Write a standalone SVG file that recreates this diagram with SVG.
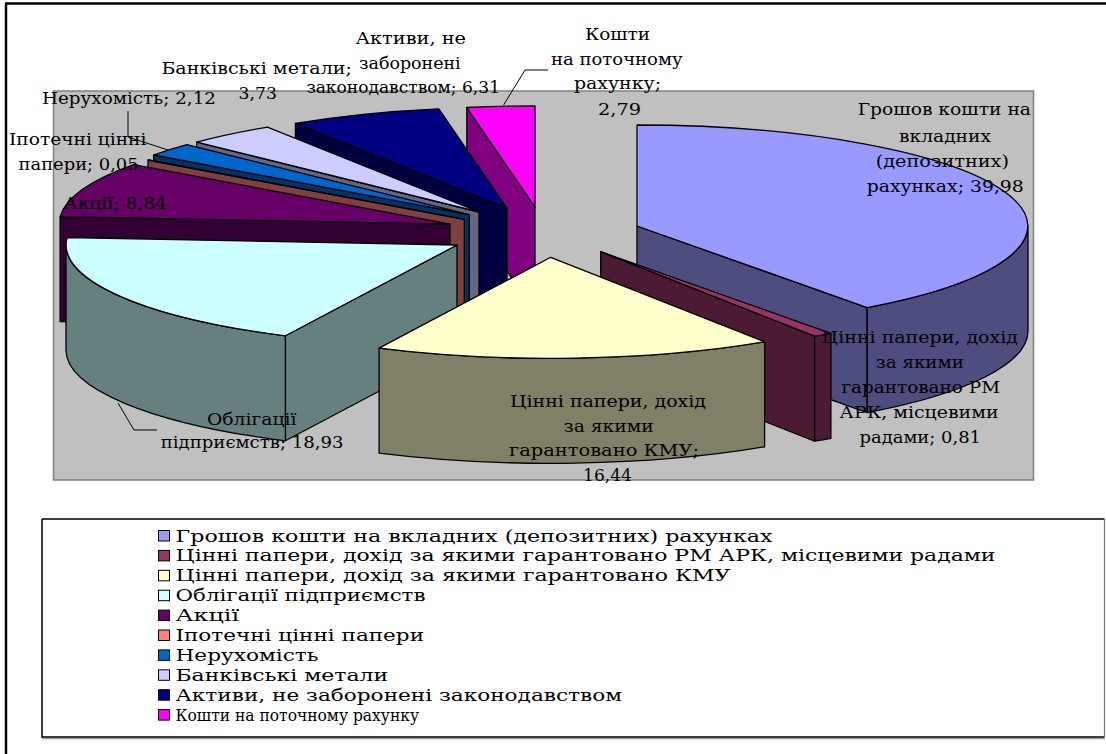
<svg xmlns="http://www.w3.org/2000/svg" width="1106" height="754" viewBox="0 0 1106 754">
<style>
.e{stroke:#000;stroke-width:1.3;stroke-linejoin:round}
.t{font-family:"DejaVu Serif","Liberation Serif",serif;font-size:16px;fill:#000}
.l{font-family:"DejaVu Serif","Liberation Serif",serif;font-size:16px;fill:#000}
.sq{stroke:#000;stroke-width:1}
.ld{fill:none;stroke:#000;stroke-width:1}
</style>
<rect x="0" y="0" width="1106" height="754" fill="#fff"/>
<path d="M5,3.5 H1106 M6,3.5 V754" stroke="#000" stroke-width="2.5" fill="none"/>
<rect id="plot-area" x="53.5" y="91" width="980" height="389" fill="#C0C0C0" stroke="#808080" stroke-width="1.5"/>

<g id="slice-koshty">
<path class="e" fill="#800080" d="M535,207 L466.8,107.5 L466.8,212.5 L535,312 Z"/>
<path class="e" fill="#FF00FF" d="M535,207 L466.8,107.5 A391,101 0 0 1 535,106 Z"/>
</g>
<g id="slice-aktyvy">
<path class="e" fill="#000040" d="M507,208.3 L295.4,123.4 L295.4,228.4 L507,313.3 Z"/>
<path class="e" fill="#000080" d="M507,208.3 L295.4,123.4 A391,101 0 0 1 438.8,108.8 Z"/>
</g>
<g id="slice-metaly">
<path class="e" fill="#666680" d="M479,212 L196.7,142.1 L196.7,247.1 L479,317 Z"/>
<path class="e" fill="#CCCCFF" d="M479,212 L196.7,142.1 A391,101 0 0 1 267.4,127.1 Z"/>
</g>
<g id="slice-nerukhomist">
<path class="e" fill="#003366" d="M469.2,214.6 L153.6,155 L153.6,260 L469.2,319.6 Z"/>
<path class="e" fill="#0066CC" d="M469.2,214.6 L153.6,155 A391,101 0 0 1 186.9,144.7 Z"/>
</g>
<g id="slice-ipotechni">
<path class="e" fill="#804040" d="M464.3,219.4 L148,160 L148,265 L464.3,324.4 Z"/>
<path class="e" fill="#FF8080" d="M464.3,219.4 L148,160 L148.7,159.8 Z"/>
</g>
<g id="slice-aktsii">
<path class="e" fill="#330033" d="M450,224.1 L60.1,216.7 L60.1,321.7 L450,329.1 Z"/>
<path class="e" fill="#660066" d="M450,224.1 L60.1,216.7 A391,101 0 0 1 133.7,164.7 Z"/>
</g>
<g id="slice-oblihatsii">
<path class="e" fill="#668080" d="M457,245 L285.4,335.8 L285.4,440.8 L457,350 Z"/>
<path class="e" fill="#668080" d="M285.4,335.8 A391,101 0 0 1 66,245 L66,350 A391,101 0 0 0 285.4,440.8 Z"/>
<path class="e" fill="#CCFFFF" d="M457,245 L285.4,335.8 A391,101 0 0 1 67.1,237.6 Z"/>
</g>
<g id="slice-hroshovi">
<path class="e" fill="#4D4D80" d="M637,226 L867.2,307.6 L867.2,412.6 L637,331 Z"/>
<path class="e" fill="#4D4D80" d="M1028,226 A391,101 0 0 1 867.2,307.6 L867.2,412.6 A391,101 0 0 0 1028,331 Z"/>
<path class="e" fill="#9999FF" d="M637,226 L637,125 A391,101 0 0 1 867.2,307.6 Z"/>
</g>
<g id="slice-rm-ark">
<path class="e" fill="#4D1A33" d="M600.7,251.7 L814.6,336.2 L814.6,441.2 L600.7,356.7 Z"/>
<path class="e" fill="#4D1A33" d="M830.9,333.3 A391,101 0 0 1 814.6,336.2 L814.6,441.2 A391,101 0 0 0 830.9,438.3 Z"/>
<path class="e" fill="#993366" d="M600.7,251.7 L830.9,333.3 A391,101 0 0 1 814.6,336.2 Z"/>
</g>
<g id="slice-kmu">
<path class="e" fill="#808066" d="M764.6,341.8 A391,101 0 0 1 379.1,348.1 L379.1,453.1 A391,101 0 0 0 764.6,446.8 Z"/>
<path class="e" fill="#FFFFCC" d="M550.7,257.3 L764.6,341.8 A391,101 0 0 1 379.1,348.1 Z"/>
</g>

<g id="connectors">
<polyline class="ld" points="128,111 128,137 168,150"/>
<polyline class="ld" points="503.6,105 525,70 548,70"/>
<polyline class="ld" points="118,403 134,430 157,430"/>
</g>

<g id="labels" class="t">
<text x="355.4" y="44" textLength="110.6" lengthAdjust="spacingAndGlyphs">Активи, не</text>
<text x="359" y="68.5" textLength="101.7" lengthAdjust="spacingAndGlyphs">заборонені</text>
<text x="306.4" y="93" textLength="193.6" lengthAdjust="spacingAndGlyphs">законодавством; 6,31</text>
<text x="161.4" y="74" textLength="190.4" lengthAdjust="spacingAndGlyphs">Банківські метали;</text>
<text x="238.6" y="99" textLength="38.2" lengthAdjust="spacingAndGlyphs">3,73</text>
<text x="42" y="104" textLength="174" lengthAdjust="spacingAndGlyphs">Нерухомість; 2,12</text>
<text x="9" y="145" textLength="137.4" lengthAdjust="spacingAndGlyphs">Іпотечні цінні</text>
<text x="18.6" y="170" textLength="120" lengthAdjust="spacingAndGlyphs">папери; 0,05</text>
<text x="63.6" y="209" textLength="103.4" lengthAdjust="spacingAndGlyphs">Акції; 8,84</text>
<text x="585" y="40" textLength="65" lengthAdjust="spacingAndGlyphs">Кошти</text>
<text x="551" y="65" textLength="131.6" lengthAdjust="spacingAndGlyphs">на поточному</text>
<text x="574" y="89" textLength="87" lengthAdjust="spacingAndGlyphs">рахунку;</text>
<text x="598" y="115" textLength="43" lengthAdjust="spacingAndGlyphs">2,79</text>
<text x="857.7" y="115" textLength="173.3" lengthAdjust="spacingAndGlyphs">Грошов кошти на</text>
<text x="899" y="141.5" textLength="92" lengthAdjust="spacingAndGlyphs">вкладних</text>
<text x="875.7" y="167" textLength="133.3" lengthAdjust="spacingAndGlyphs">(депозитних)</text>
<text x="866.7" y="191.5" textLength="157.1" lengthAdjust="spacingAndGlyphs">рахунках; 39,98</text>
<text x="207" y="425" textLength="89.4" lengthAdjust="spacingAndGlyphs">Облігації</text>
<text x="160.7" y="448" textLength="182.9" lengthAdjust="spacingAndGlyphs">підприємств; 18,93</text>
<text x="821.6" y="343" textLength="196.4" lengthAdjust="spacingAndGlyphs">Цінні папери, дохід</text>
<text x="875.7" y="368" textLength="88.3" lengthAdjust="spacingAndGlyphs">за якими</text>
<text x="841.4" y="393" textLength="158.6" lengthAdjust="spacingAndGlyphs">гарантовано РМ</text>
<text x="839.6" y="418" textLength="158.9" lengthAdjust="spacingAndGlyphs">АРК, місцевими</text>
<text x="859.5" y="443" textLength="121.5" lengthAdjust="spacingAndGlyphs">радами; 0,81</text>
<text x="510" y="407" textLength="196" lengthAdjust="spacingAndGlyphs">Цінні папери, дохід</text>
<text x="563.5" y="432" textLength="90.2" lengthAdjust="spacingAndGlyphs">за якими</text>
<text x="509" y="456" textLength="190" lengthAdjust="spacingAndGlyphs">гарантовано КМУ;</text>
<text x="583" y="481" textLength="49" lengthAdjust="spacingAndGlyphs">16,44</text>
</g>

<g id="legend">
<rect x="42" y="519" width="1062.5" height="218" fill="#fff" stroke="none"/>
<path d="M42,519 H1104.5 M42,519 V737 H1104.5" stroke="#000" stroke-width="1.5" fill="none"/>
<path d="M1104.5,519 V737" stroke="#777" stroke-width="1.2" fill="none"/>
<path d="M42,738.6 H1105" stroke="#999" stroke-width="1.2" fill="none"/>
<g class="sq">
<rect x="158.5" y="530.5" width="11" height="10.5" fill="#9999FF"/>
<rect x="158.5" y="550.4" width="11" height="10.5" fill="#993366"/>
<rect x="158.5" y="570.3" width="11" height="10.5" fill="#FFFFCC"/>
<rect x="158.5" y="590.2" width="11" height="10.5" fill="#CCFFFF"/>
<rect x="158.5" y="610.1" width="11" height="10.5" fill="#660066"/>
<rect x="158.5" y="630" width="11" height="10.5" fill="#FF8080"/>
<rect x="158.5" y="649.9" width="11" height="10.5" fill="#0066CC"/>
<rect x="158.5" y="669.8" width="11" height="10.5" fill="#CCCCFF"/>
<rect x="158.5" y="689.7" width="11" height="10.5" fill="#000080"/>
<rect x="158.5" y="709.6" width="11" height="10.5" fill="#FF00FF"/>
</g>
<g class="l">
<text x="175.5" y="541.5" textLength="597" lengthAdjust="spacingAndGlyphs">Грошов кошти на вкладних (депозитних) рахунках</text>
<text x="175.5" y="561.4" textLength="820" lengthAdjust="spacingAndGlyphs">Цінні папери, дохід за якими гарантовано РМ АРК, місцевими радами</text>
<text x="175.5" y="581.3" textLength="555" lengthAdjust="spacingAndGlyphs">Цінні папери, дохід за якими гарантовано КМУ</text>
<text x="175.5" y="601.2" textLength="250" lengthAdjust="spacingAndGlyphs">Облігації підприємств</text>
<text x="175.5" y="621.1" textLength="63.5" lengthAdjust="spacingAndGlyphs">Акції</text>
<text x="175.5" y="641" textLength="248.5" lengthAdjust="spacingAndGlyphs">Іпотечні цінні папери</text>
<text x="175.5" y="660.9" textLength="143" lengthAdjust="spacingAndGlyphs">Нерухомість</text>
<text x="175.5" y="680.8" textLength="212.5" lengthAdjust="spacingAndGlyphs">Банківські метали</text>
<text x="175.5" y="700.7" textLength="446.5" lengthAdjust="spacingAndGlyphs">Активи, не заборонені законодавством</text>
<text x="175.5" y="720.6" textLength="243.5" lengthAdjust="spacingAndGlyphs">Кошти на поточному рахунку</text>
</g>
</g>
</svg>
